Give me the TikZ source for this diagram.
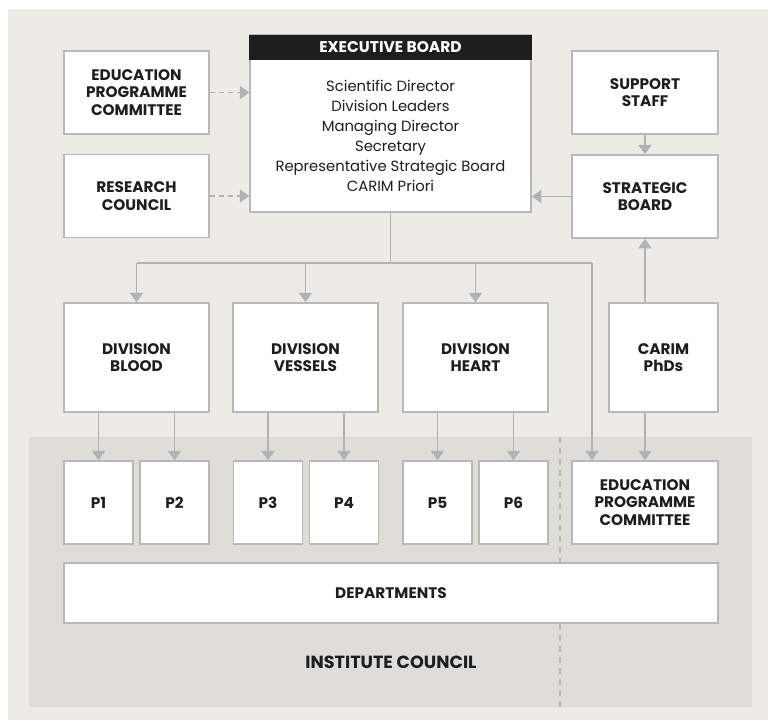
\documentclass[tikz,border=0pt]{standalone}
\usepackage{fontspec}
\setmainfont{Poppins}
\usetikzlibrary{arrows.meta}
\definecolor{page-color}{RGB}{236,235,229}
\definecolor{council-color}{RGB}{222,221,216}
\definecolor{frame-color}{RGB}{184,184,184}
\definecolor{link-color}{RGB}{178,178,178}
\definecolor{ink-color}{RGB}{30,30,30}

\tikzset{
  unit/.style={draw=frame-color, line width=1.5pt, fill=white, text=ink-color,
    font=\bfseries\fontsize{15.3}{17.5}\selectfont, align=center, inner sep=0pt},
  link/.style={draw=link-color, line width=1.8pt, -{Triangle[width=13pt,length=9.5pt]}},
  advice/.style={link, dash pattern=on 5pt off 4pt},
  trunk/.style={draw=link-color, line width=1.8pt},
}

\begin{document}
\begin{tikzpicture}[x=1pt,y=-1pt]
    \useasboundingbox (0,0) rectangle (768,720);
    \fill[page-color] (8,9) rectangle (768,720);

    % institute council band
    \fill[council-color] (29,437) rectangle (752,707);
    \draw[frame-color, line width=1.5pt, dash pattern=on 6pt off 5pt] (560,437) -- (560,707);
    \node[font=\bfseries\fontsize{17.6}{20}\selectfont, text=ink-color] (council) at (391,662) {INSTITUTE COUNCIL};

    % top row
    \node[unit, minimum width=145pt, minimum height=83pt] (eduTop) at (136.5,92.5) {EDUCATION\\PROGRAMME\\COMMITTEE};
    \node[unit, minimum width=145pt, minimum height=83pt] (research) at (136.5,196) {RESEARCH\\COUNCIL};
    \node[unit, minimum width=281pt, minimum height=177pt] (exec) at (390.5,123.5) {};
    \node[fill=ink-color, text=white, font=\bfseries\fontsize{15.5}{17}\selectfont,
          minimum width=282.5pt, minimum height=25pt, inner sep=0pt] (execHead) at (390.5,47.5) {EXECUTIVE BOARD};
    \node[text=ink-color, font=\fontsize{14.8}{20}\selectfont, align=center] (execList) at (390.5,136)
        {Scientific Director\\Division Leaders\\Managing Director\\Secretary\\Representative Strategic Board\\CARIM Priori};
    \node[unit, minimum width=146pt, minimum height=83pt] (support) at (645,92.5) {SUPPORT\\STAFF};
    \node[unit, minimum width=146pt, minimum height=83pt] (strat) at (645,196.5) {STRATEGIC\\BOARD};

    % divisions
    \node[unit, minimum width=145pt, minimum height=109pt] (blood) at (136.5,357.5) {DIVISION\\BLOOD};
    \node[unit, minimum width=145pt, minimum height=109pt] (vessels) at (305.5,357.5) {DIVISION\\VESSELS};
    \node[unit, minimum width=145pt, minimum height=109pt] (heart) at (475.5,357.5) {DIVISION\\HEART};
    \node[unit, minimum width=109pt, minimum height=109pt] (phd) at (663.5,357.5) {CARIM\\PhDs};

    % programmes
    \foreach \n/\x in {1/98.5, 2/174.5, 3/268, 4/344, 5/437.5, 6/513.5}
        \node[unit, minimum width=69pt, minimum height=83pt] (p\n) at (\x,502.5) {P\n};
    \node[unit, minimum width=146pt, minimum height=83pt] (eduBot) at (645,502.5) {EDUCATION\\PROGRAMME\\COMMITTEE};
    \node[unit, minimum width=654pt, minimum height=60pt] (dept) at (391,593) {DEPARTMENTS};

    % connectors
    \draw[advice] (eduTop.east) -- (eduTop.east -| exec.west);
    \draw[advice] (research.east) -- (research.east -| exec.west);
    \draw[link] (support) -- (strat);
    \draw[link] (strat.west) -- (strat.west -| exec.east);
    \draw[link] (phd.north -| strat) -- (strat.south);
    \draw[link] (phd.south -| eduBot) -- (eduBot.north);

    \coordinate (bus) at (390.5,263);
    \coordinate (busEnd) at (592,263);
    \draw[trunk] (exec.south) -- (bus);
    \draw[trunk] (bus -| blood) -- (busEnd);
    \draw[link] (bus -| blood) -- (blood.north);
    \draw[link] (bus -| vessels) -- (vessels.north);
    \draw[link] (bus -| heart) -- (heart.north);
    \draw[link] (busEnd) -- (busEnd |- eduBot.north);

    \draw[link] (blood.south -| p1) -- (p1.north);
    \draw[link] (blood.south -| p2) -- (p2.north);
    \draw[link] (vessels.south -| p3) -- (p3.north);
    \draw[link] (vessels.south -| p4) -- (p4.north);
    \draw[link] (heart.south -| p5) -- (p5.north);
    \draw[link] (heart.south -| p6) -- (p6.north);
\end{tikzpicture}
\end{document}
